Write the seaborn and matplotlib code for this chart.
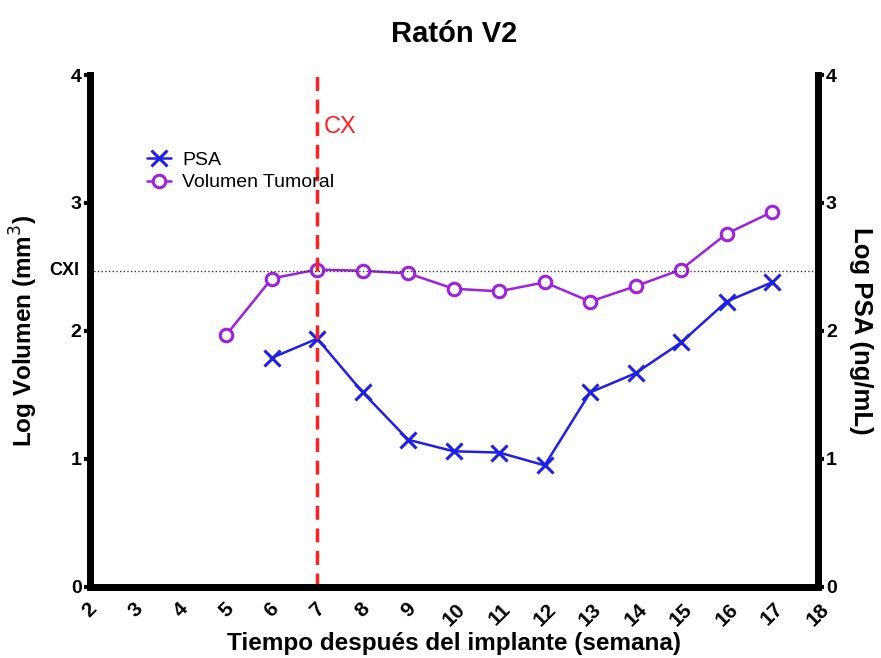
import numpy as np
import pandas as pd
import matplotlib
matplotlib.use("Agg")
import matplotlib.pyplot as plt
import seaborn as sns

# Data
vol_weeks = [5, 6, 7, 8, 9, 10, 11, 12, 13, 14, 15, 16, 17]
vol_log = [1.97, 2.41, 2.48, 2.47, 2.45, 2.33, 2.31, 2.38, 2.23, 2.35, 2.48, 2.76, 2.93]
psa_weeks = [6, 7, 8, 9, 10, 11, 12, 13, 14, 15, 16, 17]
psa_log = [1.79, 1.94, 1.52, 1.15, 1.06, 1.05, 0.95, 1.52, 1.67, 1.91, 2.23, 2.38]
cx_week = 7
cxi_level = 2.47
x_ticks = list(range(2, 19))
y_ticks = [0, 1, 2, 3, 4]

df_vol = pd.DataFrame({"Semana": vol_weeks, "Valor": vol_log})
df_psa = pd.DataFrame({"Semana": psa_weeks, "Valor": psa_log})

sns.set_theme(style="white")
plt.rcParams["font.family"] = ["Liberation Sans", "DejaVu Sans"]
plt.rcParams["text.color"] = "black"
plt.rcParams["axes.labelcolor"] = "black"
plt.rcParams["xtick.color"] = "black"
plt.rcParams["ytick.color"] = "black"

fig = plt.figure(figsize=(8.81, 6.58), dpi=100)
ax = fig.add_axes([0.102, 0.108, 0.826, 0.778])

blue = "#1f1fe6"
purple = "#a020e0"

sns.lineplot(data=df_psa, x="Semana", y="Valor", ax=ax, color=blue, marker="x",
             markersize=11, markeredgewidth=2.2, markeredgecolor=blue,
             linewidth=1.8, label="PSA")
sns.lineplot(data=df_vol, x="Semana", y="Valor", ax=ax, color=purple, marker="o",
             markersize=9, markerfacecolor="white", markeredgecolor=purple,
             markeredgewidth=2.2, linewidth=1.8, label="Volumen Tumoral")

ax.axvline(cx_week, color="#ff2020", linestyle=(0, (4, 2.5)), linewidth=2.5)
ax.axhline(cxi_level, color="#333333", linestyle=":", linewidth=1)
ax.text(cx_week + 0.15, 3.55, "CX", color="#ff2020", fontsize=17)
ax.text(-0.015, cxi_level, "CXI", transform=ax.get_yaxis_transform(),
        ha="right", va="center", fontsize=13, fontweight="bold")

ax.set_xlim(2, 18)
ax.set_ylim(0, 4)
ax.set_xticks(x_ticks)
ax.set_xticklabels([str(t) for t in x_ticks], rotation=45, ha="center",
                   fontsize=15, fontweight="bold")
ax.set_yticks(y_ticks)
ax.set_yticklabels([str(t) for t in y_ticks], fontsize=14, fontweight="bold")
ax.set_xlabel("Tiempo después del implante (semana)", fontsize=17.5, fontweight="bold",
              labelpad=2)
ax.set_ylabel("Log Volumen (mm$^3$)", fontsize=17.5, fontweight="bold", labelpad=22)
ax.set_title("Ratón V2", fontsize=21, fontweight="bold", pad=24)

ax2 = ax.twinx()
ax2.set_ylim(0, 4)
ax2.set_yticks(y_ticks)
ax2.set_yticklabels([str(t) for t in y_ticks], fontsize=14, fontweight="bold")
ax2.set_ylabel("Log PSA (ng/mL)", fontsize=18.5, fontweight="bold", rotation=270, labelpad=26)

for a in (ax, ax2):
    a.spines["top"].set_visible(False)
    for s in ("left", "right", "bottom"):
        a.spines[s].set_linewidth(5)
        a.spines[s].set_color("black")
    a.tick_params(axis="both", which="major", length=4, width=3, color="black", pad=2)
ax.tick_params(axis="x", pad=5)

leg = ax.legend(loc="upper left", bbox_to_anchor=(0.055, 0.885), frameon=False,
                fontsize=14, handlelength=1.2, handletextpad=0.6, labelspacing=0.25)

fig.savefig("out.png", dpi=100)
